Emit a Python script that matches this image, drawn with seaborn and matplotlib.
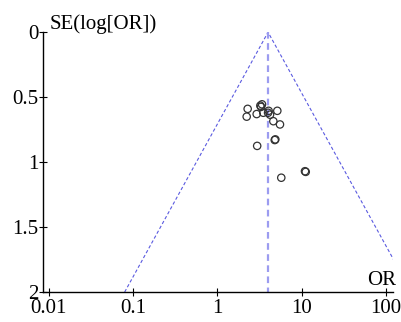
import numpy as np
import pandas as pd
import matplotlib
matplotlib.use("Agg")
import matplotlib.pyplot as plt
import seaborn as sns
from matplotlib.ticker import FixedLocator, FixedFormatter, NullLocator

# Study data
odds_ratio = [2.29, 2.23, 2.93, 3.24, 3.39, 3.30, 3.51, 4.06, 4.00, 4.22,
              5.15, 4.62, 5.54, 4.88, 4.80, 2.97, 10.97, 11.2, 5.74]
se_log_or = [0.59, 0.65, 0.63, 0.565, 0.555, 0.575, 0.62, 0.605, 0.62, 0.635,
             0.605, 0.685, 0.71, 0.825, 0.83, 0.875, 1.07, 1.075, 1.12]
pooled_or = 4.0

x_ticks = [0.01, 0.1, 1, 10, 100]
x_tick_labels = ["0.01", "0.1", "1", "10", "100"]
y_ticks = [0, 0.5, 1, 1.5, 2]
y_tick_labels = ["0", "0.5", "1", "1.5", "2"]

sns.set_theme(style="white")
plt.rcParams['font.family'] = ['Liberation Serif', 'DejaVu Serif']

fig = plt.figure(figsize=(4.01, 3.22), dpi=100)
ax = fig.add_axes([0.107, 0.093, 0.873, 0.807])

df = pd.DataFrame({"OR": odds_ratio, "SE": se_log_or})

# funnel limits (pseudo 95% CI)
se_line = np.linspace(0, 2, 200)
lo = np.exp(np.log(pooled_or) - 1.96 * se_line)
hi = np.exp(np.log(pooled_or) + 1.96 * se_line)
funnel = pd.DataFrame({"x": np.concatenate([lo[::-1], hi]),
                       "y": np.concatenate([se_line[::-1], se_line])})
ax.plot(funnel["x"], funnel["y"], color="#5a5ae0", lw=0.8,
        dashes=(3, 2), zorder=2)
ax.plot([pooled_or, pooled_or], [0, 2], color="#9c9cf0", lw=1.6,
        dashes=(3, 2), zorder=2)

sns.scatterplot(data=df, x="OR", y="SE", ax=ax, marker="o", s=28,
                facecolor="none", edgecolor="#333333", linewidth=0.9,
                zorder=3, legend=False)

ax.set_xscale("log")
ax.set_xlim(10 ** -2.071, 10 ** 2.085)
ax.set_ylim(2, 0)

ax.xaxis.set_major_locator(FixedLocator(x_ticks))
ax.xaxis.set_major_formatter(FixedFormatter(x_tick_labels))
ax.xaxis.set_minor_locator(NullLocator())
ax.yaxis.set_major_locator(FixedLocator(y_ticks))
ax.yaxis.set_major_formatter(FixedFormatter(y_tick_labels))

ax.tick_params(axis="both", which="major", direction="inout", length=6,
               width=0.8, color="black", labelsize=15, labelcolor="black",
               bottom=True, left=True)
ax.tick_params(axis="y", pad=0)
ax.tick_params(axis="x", pad=2)

for s in ["top", "right"]:
    ax.spines[s].set_visible(False)
for s in ["left", "bottom"]:
    ax.spines[s].set_color("black")
    ax.spines[s].set_linewidth(1.0)

ax.set_xlabel("")
ax.set_ylabel("")
ax.text(0.02, 1.012, "SE(log[OR])", transform=ax.transAxes, ha="left",
        va="baseline", fontsize=15, color="black")
ax.text(1.009, 0.027, "OR", transform=ax.transAxes, ha="right",
        va="baseline", fontsize=15, color="black")

fig.savefig("out.png", dpi=100)
